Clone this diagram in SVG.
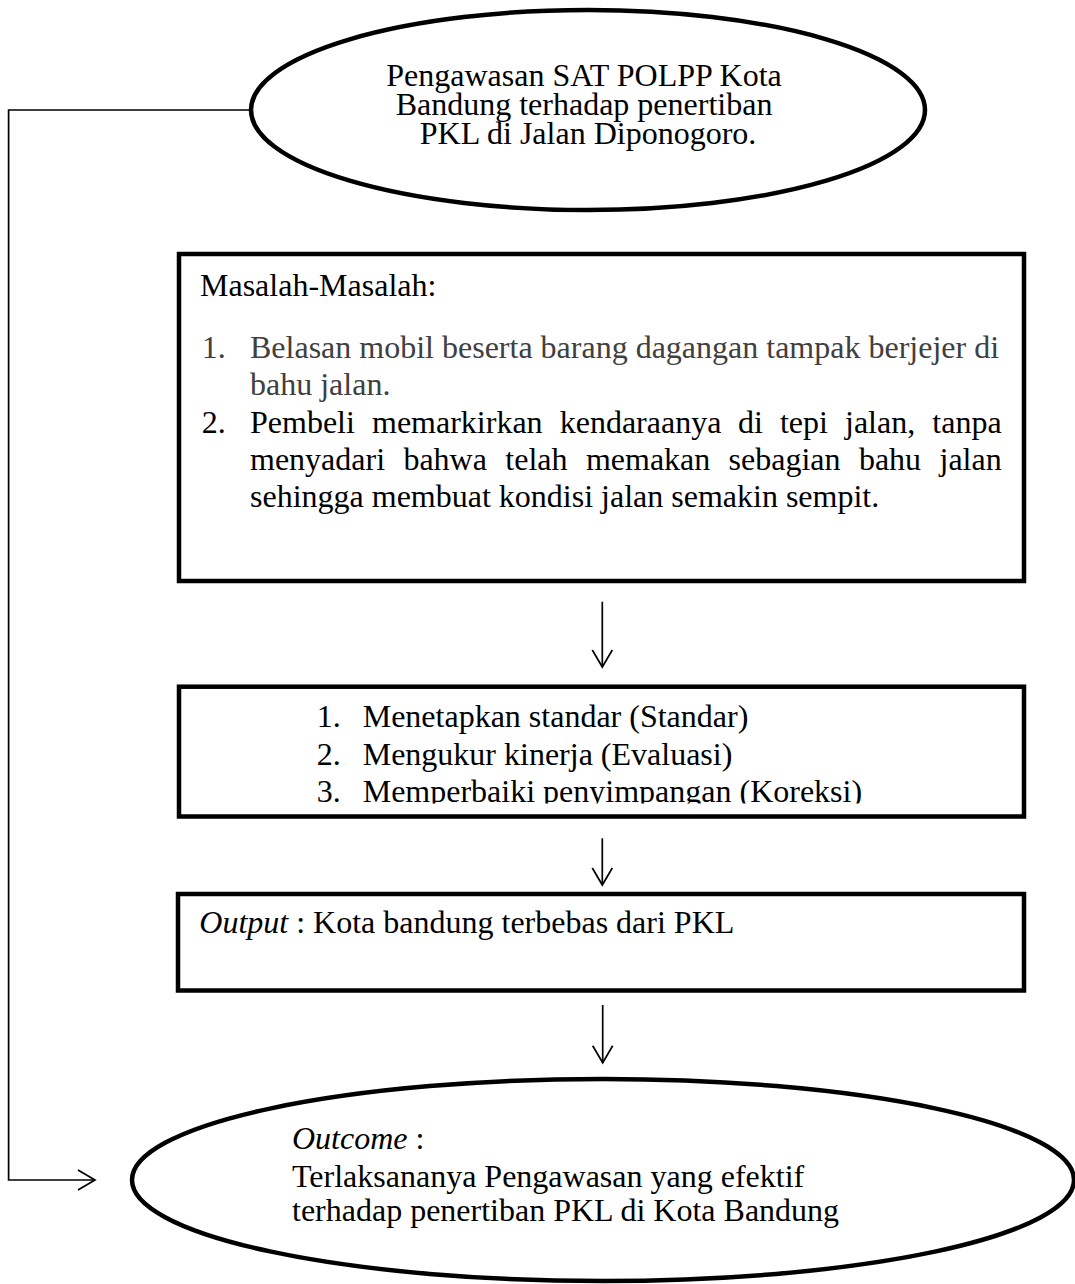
<svg xmlns="http://www.w3.org/2000/svg" width="1075" height="1284" viewBox="0 0 1075 1284">
  <style>
    .t{font-family:"Liberation Serif","Times New Roman",serif;font-size:32px;fill:#000}
    .gray{fill:#404040}
    .it{font-style:italic}
    .box{fill:#fff;stroke:#000;stroke-width:4.5}
    .oval{fill:#fff;stroke:#000;stroke-width:4.5}
    .conn{fill:none;stroke:#000;stroke-width:1.7}
  </style>
  <defs>
    <marker id="arr" viewBox="0 0 20 24" refX="18" refY="12" markerWidth="20" markerHeight="24" markerUnits="userSpaceOnUse" orient="auto">
      <path d="M1,2 L18,12 L1,22" fill="none" stroke="#000" stroke-width="1.7"/>
    </marker>
    <clipPath id="clipB2">
      <rect x="182" y="690" width="840" height="113.5"/>
    </clipPath>
  </defs>
  <rect x="0" y="0" width="1075" height="1284" fill="#fff"/>

  <g id="connectors">
    <path class="conn" d="M251,110 L8.6,110 L8.6,1180 L95,1180" marker-end="url(#arr)"/>
    <path class="conn" d="M602.3,601.7 L602.3,667" marker-end="url(#arr)"/>
    <path class="conn" d="M602.3,838.3 L602.3,885" marker-end="url(#arr)"/>
    <path class="conn" d="M602.7,1005 L602.7,1062.7" marker-end="url(#arr)"/>
  </g>

  <g id="node-start">
    <ellipse class="oval" cx="588" cy="110" rx="337" ry="100"/>
    <text class="t" text-anchor="middle">
      <tspan x="588" y="86">Pengawasan SAT POLPP Kota</tspan>
      <tspan x="588" y="115">Bandung terhadap penertiban</tspan>
      <tspan x="588" y="144">PKL di Jalan Diponogoro.</tspan>
    </text>
  </g>

  <g id="node-masalah">
    <rect class="box" x="179" y="254" width="845" height="327"/>
    <text class="t" x="200" y="296">Masalah-Masalah:</text>
    <text class="t gray" x="201.7" y="358">1.</text>
    <text class="t gray" x="250" y="358">Belasan mobil beserta barang dagangan tampak berjejer di</text>
    <text class="t gray" x="250" y="395">bahu jalan.</text>
    <text class="t" x="201.7" y="433">2.</text>
    <text class="t" y="433"><tspan x="250">Pembeli</tspan><tspan x="372">memarkirkan</tspan><tspan x="559.7">kendaraanya</tspan><tspan x="737.9">di</tspan><tspan x="779.9">tepi</tspan><tspan x="845">jalan,</tspan><tspan x="932.3">tanpa</tspan></text>
    <text class="t" y="470"><tspan x="250">menyadari</tspan><tspan x="403.4">bahwa</tspan><tspan x="505.3">telah</tspan><tspan x="585.9">memakan</tspan><tspan x="728.6">sebagian</tspan><tspan x="858.9">bahu</tspan><tspan x="939.5">jalan</tspan></text>
    <text class="t" x="250" y="507">sehingga membuat kondisi jalan semakin sempit.</text>
  </g>

  <g id="node-proses">
    <rect class="box" x="179" y="686.7" width="845" height="129.8"/>
    <g clip-path="url(#clipB2)">
      <text class="t" x="316.7" y="727.3">1.</text>
      <text class="t" x="362.7" y="727.3">Menetapkan standar (Standar)</text>
      <text class="t" x="316.7" y="765">2.</text>
      <text class="t" x="362.7" y="765">Mengukur kinerja (Evaluasi)</text>
      <text class="t" x="316.7" y="801.7">3.</text>
      <text class="t" x="362.7" y="801.7">Memperbaiki penyimpangan (Koreksi)</text>
    </g>
  </g>

  <g id="node-output">
    <rect class="box" x="178" y="894" width="846" height="96.5"/>
    <text class="t" x="199.3" y="933"><tspan class="it">Output</tspan> : Kota bandung terbebas dari PKL</text>
  </g>

  <g id="node-outcome">
    <ellipse class="oval" cx="603" cy="1180" rx="471" ry="101"/>
    <text class="t">
      <tspan x="292" y="1149"><tspan class="it">Outcome</tspan> :</tspan>
      <tspan x="292" y="1187">Terlaksananya Pengawasan yang efektif</tspan>
      <tspan x="292" y="1221">terhadap penertiban PKL di Kota Bandung</tspan>
    </text>
  </g>
</svg>
